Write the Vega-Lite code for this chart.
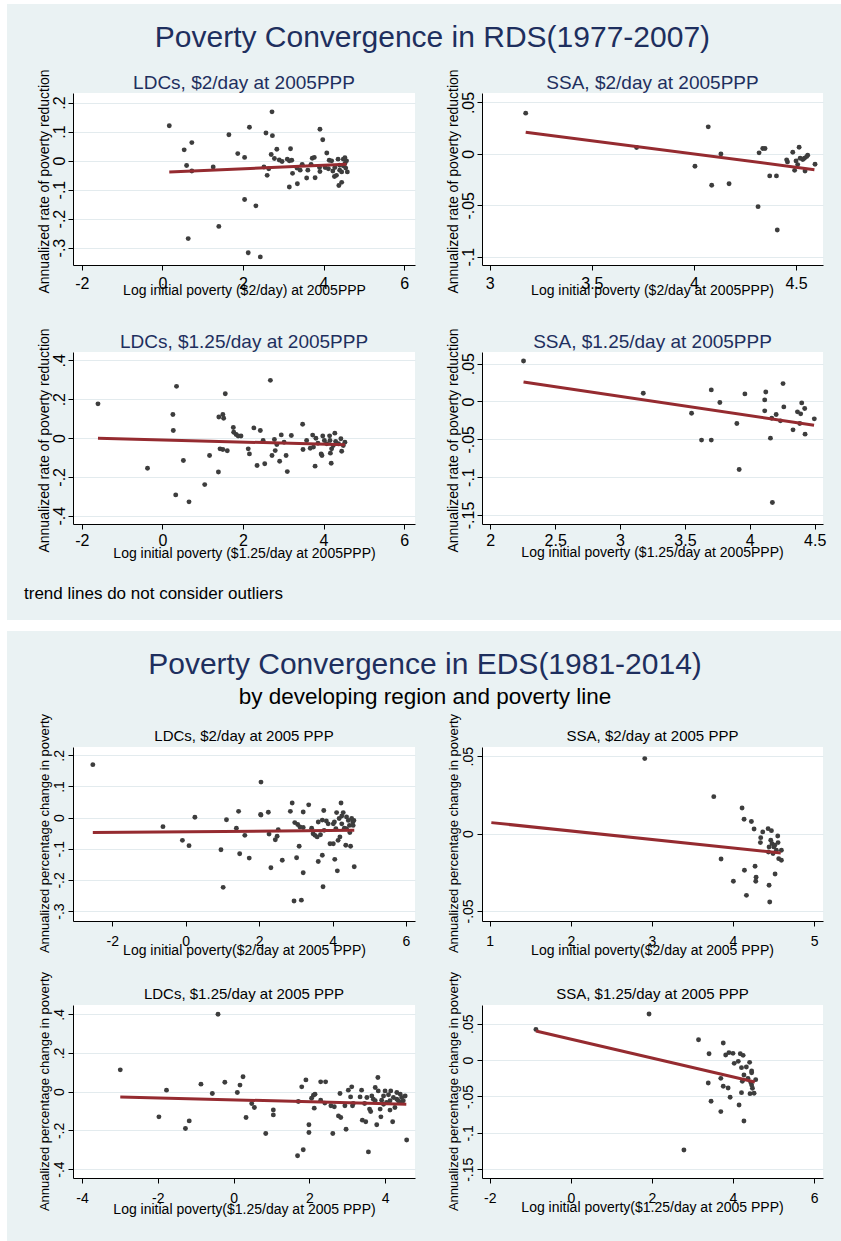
{
"$schema": "https://vega.github.io/schema/vega-lite/v6.json",
"background": "#eaf2f3",
"padding": {"left": 0, "top": 0, "right": 0, "bottom": 0},
"spacing": 0,
"config": {
  "font": "Liberation Sans",
  "view": {"fill": "white", "stroke": null},
  "axis": {"domainColor": "#000", "domainWidth": 1, "tickColor": "#000", "tickSize": 5, "tickWidth": 1, "tickCount": 12, "labelColor": "#000", "titleColor": "#000", "titleFontWeight": "normal", "titleFontSize": 14, "gridColor": "#e3ebee", "gridWidth": 1, "labelFlush": false, "labelOverlap": false, "titleAlign": "center", "labelFont": "Liberation Sans", "titleFont": "Liberation Sans"},
  "axisX": {"grid": false, "titleBaseline": "alphabetic", "titleAngle": 0},
  "axisY": {"grid": true, "labelAngle": 270, "labelAlign": "center", "labelBaseline": "bottom", "titleAngle": 270, "titleBaseline": "alphabetic"},
  "title": {"font": "Liberation Sans", "fontWeight": "normal", "anchor": "middle", "subtitleFont": "Liberation Sans"}
},
"datasets": {
"pts": [
{"p":1,"x":0.17,"y":0.12},{"p":1,"x":0.54,"y":0.037},{"p":1,"x":0.73,"y":0.062},{"p":1,"x":0.60,"y":-0.017},{"p":1,"x":0.73,"y":-0.036},{"p":1,"x":0.64,"y":-0.269},{"p":1,"x":1.26,"y":-0.022},{"p":1,"x":1.40,"y":-0.227},{"p":1,"x":1.65,"y":0.089},{"p":1,"x":1.87,"y":0.024},{"p":1,"x":2.04,"y":0.011},{"p":1,"x":2.16,"y":0.115},{"p":1,"x":2.04,"y":-0.134},{"p":1,"x":2.32,"y":-0.156},{"p":1,"x":2.13,"y":-0.318},{"p":1,"x":2.43,"y":-0.332},{"p":1,"x":2.72,"y":0.168},{"p":1,"x":2.57,"y":0.095},{"p":1,"x":2.73,"y":0.086},{"p":1,"x":2.70,"y":0.021},{"p":1,"x":2.84,"y":0.039},{"p":1,"x":2.78,"y":0.007},{"p":1,"x":2.52,"y":-0.022},{"p":1,"x":2.60,"y":-0.051},{"p":1,"x":2.64,"y":-0.028},{"p":1,"x":2.90,"y":0.002},{"p":1,"x":2.97,"y":-0.003},{"p":1,"x":3.10,"y":0.005},{"p":1,"x":3.18,"y":0.041},{"p":1,"x":3.15,"y":-0.001},{"p":1,"x":3.21,"y":0.001},{"p":1,"x":3.15,"y":-0.091},{"p":1,"x":3.23,"y":-0.044},{"p":1,"x":3.35,"y":-0.080},{"p":1,"x":3.34,"y":-0.026},{"p":1,"x":3.42,"y":-0.033},{"p":1,"x":3.61,"y":-0.033},{"p":1,"x":3.58,"y":-0.060},{"p":1,"x":3.72,"y":0.008},{"p":1,"x":3.77,"y":0.011},{"p":1,"x":3.79,"y":-0.059},{"p":1,"x":3.91,"y":0.108},{"p":1,"x":3.98,"y":0.072},{"p":1,"x":3.90,"y":-0.024},{"p":1,"x":3.91,"y":-0.038},{"p":1,"x":4.08,"y":0.026},{"p":1,"x":4.12,"y":-0.028},{"p":1,"x":4.14,"y":0.001},{"p":1,"x":4.23,"y":-0.036},{"p":1,"x":4.27,"y":-0.055},{"p":1,"x":4.32,"y":-0.051},{"p":1,"x":4.36,"y":0.005},{"p":1,"x":4.40,"y":-0.016},{"p":1,"x":4.38,"y":-0.086},{"p":1,"x":4.45,"y":-0.075},{"p":1,"x":4.49,"y":0.005},{"p":1,"x":4.53,"y":-0.010},{"p":1,"x":4.57,"y":-0.001},{"p":1,"x":4.59,"y":-0.039},{"p":1,"x":4.45,"y":-0.039},{"p":1,"x":4.53,"y":0.010},{"p":1,"x":4.04,"y":-0.024},{"p":1,"x":4.20,"y":-0.001},{"p":1,"x":4.28,"y":-0.024},{"p":1,"x":3.47,"y":-0.013},{"p":1,"x":3.69,"y":-0.013},{"p":1,"x":4.40,"y":-0.033},{"p":1,"x":4.49,"y":-0.018},{"p":1,"x":4.55,"y":-0.026},
{"p":2,"x":3.176,"y":0.0396},{"p":2,"x":3.719,"y":0.0062},{"p":2,"x":4.070,"y":0.0263},{"p":2,"x":4.005,"y":-0.012},{"p":2,"x":4.087,"y":-0.0305},{"p":2,"x":4.132,"y":0.0},{"p":2,"x":4.172,"y":-0.029},{"p":2,"x":4.314,"y":-0.0513},{"p":2,"x":4.319,"y":0.001},{"p":2,"x":4.337,"y":0.0052},{"p":2,"x":4.348,"y":0.0052},{"p":2,"x":4.371,"y":-0.0214},{"p":2,"x":4.404,"y":-0.0214},{"p":2,"x":4.408,"y":-0.074},{"p":2,"x":4.454,"y":-0.0058},{"p":2,"x":4.458,"y":-0.0078},{"p":2,"x":4.484,"y":0.0016},{"p":2,"x":4.493,"y":-0.016},{"p":2,"x":4.5,"y":-0.0068},{"p":2,"x":4.508,"y":-0.0104},{"p":2,"x":4.515,"y":0.0065},{"p":2,"x":4.520,"y":-0.0042},{"p":2,"x":4.533,"y":-0.0055},{"p":2,"x":4.541,"y":-0.0042},{"p":2,"x":4.544,"y":-0.0166},{"p":2,"x":4.552,"y":-0.0026},{"p":2,"x":4.557,"y":-0.0013},{"p":2,"x":4.593,"y":-0.0101},
{"p":3,"x":-1.60,"y":0.176},{"p":3,"x":-0.37,"y":-0.156},{"p":3,"x":0.35,"y":0.266},{"p":3,"x":0.26,"y":0.121},{"p":3,"x":0.27,"y":0.039},{"p":3,"x":0.33,"y":-0.293},{"p":3,"x":0.52,"y":-0.116},{"p":3,"x":0.66,"y":-0.329},{"p":3,"x":1.05,"y":-0.240},{"p":3,"x":1.17,"y":-0.090},{"p":3,"x":1.39,"y":-0.175},{"p":3,"x":1.40,"y":0.108},{"p":3,"x":1.50,"y":0.121},{"p":3,"x":1.52,"y":0.102},{"p":3,"x":1.56,"y":0.228},{"p":3,"x":1.43,"y":-0.056},{"p":3,"x":1.50,"y":-0.059},{"p":3,"x":1.61,"y":-0.066},{"p":3,"x":1.76,"y":0.054},{"p":3,"x":1.77,"y":0.030},{"p":3,"x":1.83,"y":0.018},{"p":3,"x":1.88,"y":0.010},{"p":3,"x":1.95,"y":0.010},{"p":3,"x":2.13,"y":-0.056},{"p":3,"x":2.16,"y":-0.082},{"p":3,"x":2.27,"y":0.052},{"p":3,"x":2.35,"y":-0.142},{"p":3,"x":2.43,"y":0.039},{"p":3,"x":2.50,"y":-0.013},{"p":3,"x":2.54,"y":-0.133},{"p":3,"x":2.68,"y":0.297},{"p":3,"x":2.72,"y":-0.090},{"p":3,"x":2.78,"y":-0.008},{"p":3,"x":2.80,"y":-0.065},{"p":3,"x":2.84,"y":-0.034},{"p":3,"x":2.91,"y":-0.120},{"p":3,"x":2.95,"y":0.016},{"p":3,"x":3.02,"y":-0.022},{"p":3,"x":3.07,"y":-0.090},{"p":3,"x":3.10,"y":-0.173},{"p":3,"x":3.20,"y":0.013},{"p":3,"x":3.48,"y":0.071},{"p":3,"x":3.49,"y":-0.059},{"p":3,"x":3.58,"y":-0.013},{"p":3,"x":3.67,"y":-0.053},{"p":3,"x":3.73,"y":0.015},{"p":3,"x":3.75,"y":-0.047},{"p":3,"x":3.79,"y":-0.145},{"p":3,"x":3.81,"y":-0.001},{"p":3,"x":3.86,"y":-0.027},{"p":3,"x":3.94,"y":-0.082},{"p":3,"x":3.96,"y":-0.090},{"p":3,"x":3.98,"y":0.010},{"p":3,"x":4.02,"y":-0.013},{"p":3,"x":4.08,"y":-0.030},{"p":3,"x":4.15,"y":0.011},{"p":3,"x":4.17,"y":-0.078},{"p":3,"x":4.19,"y":-0.130},{"p":3,"x":4.20,"y":-0.056},{"p":3,"x":4.28,"y":0.025},{"p":3,"x":4.30,"y":-0.018},{"p":3,"x":4.37,"y":-0.030},{"p":3,"x":4.43,"y":-0.004},{"p":3,"x":4.45,"y":-0.068},{"p":3,"x":4.49,"y":-0.039},{"p":3,"x":4.53,"y":-0.022},{"p":3,"x":4.16,"y":-0.013},{"p":3,"x":4.24,"y":-0.039},
{"p":4,"x":2.256,"y":0.0535},{"p":4,"x":3.179,"y":0.0109},{"p":4,"x":3.551,"y":-0.0155},{"p":4,"x":3.628,"y":-0.0511},{"p":4,"x":3.703,"y":0.0153},{"p":4,"x":3.703,"y":-0.0511},{"p":4,"x":3.769,"y":-0.0014},{"p":4,"x":3.900,"y":-0.0292},{"p":4,"x":3.918,"y":-0.090},{"p":4,"x":3.962,"y":0.0100},{"p":4,"x":4.115,"y":0.0021},{"p":4,"x":4.123,"y":0.0126},{"p":4,"x":4.115,"y":-0.0124},{"p":4,"x":4.159,"y":-0.0485},{"p":4,"x":4.169,"y":-0.0221},{"p":4,"x":4.174,"y":-0.1335},{"p":4,"x":4.203,"y":-0.0173},{"p":4,"x":4.236,"y":-0.0256},{"p":4,"x":4.256,"y":0.0236},{"p":4,"x":4.262,"y":-0.0072},{"p":4,"x":4.333,"y":-0.0375},{"p":4,"x":4.367,"y":-0.0137},{"p":4,"x":4.385,"y":-0.0292},{"p":4,"x":4.392,"y":-0.0164},{"p":4,"x":4.400,"y":-0.0019},{"p":4,"x":4.423,"y":-0.0093},{"p":4,"x":4.426,"y":-0.0432},{"p":4,"x":4.497,"y":-0.023},
{"p":5,"x":-2.53,"y":0.170},{"p":5,"x":-0.62,"y":-0.029},{"p":5,"x":-0.09,"y":-0.073},{"p":5,"x":0.09,"y":-0.090},{"p":5,"x":0.25,"y":0.001},{"p":5,"x":0.96,"y":-0.103},{"p":5,"x":1.02,"y":-0.224},{"p":5,"x":1.11,"y":-0.007},{"p":5,"x":1.38,"y":-0.034},{"p":5,"x":1.44,"y":0.020},{"p":5,"x":1.47,"y":-0.116},{"p":5,"x":1.61,"y":-0.057},{"p":5,"x":1.73,"y":-0.130},{"p":5,"x":2.05,"y":0.114},{"p":5,"x":2.04,"y":0.010},{"p":5,"x":2.05,"y":0.008},{"p":5,"x":2.25,"y":0.017},{"p":5,"x":2.27,"y":-0.053},{"p":5,"x":2.32,"y":-0.161},{"p":5,"x":2.44,"y":-0.071},{"p":5,"x":2.49,"y":-0.060},{"p":5,"x":2.52,"y":-0.039},{"p":5,"x":2.63,"y":-0.137},{"p":5,"x":2.85,"y":0.020},{"p":5,"x":2.90,"y":0.047},{"p":5,"x":2.95,"y":-0.268},{"p":5,"x":2.97,"y":-0.016},{"p":5,"x":3.02,"y":-0.129},{"p":5,"x":3.05,"y":-0.022},{"p":5,"x":3.09,"y":-0.092},{"p":5,"x":3.11,"y":-0.030},{"p":5,"x":3.15,"y":-0.265},{"p":5,"x":3.20,"y":0.018},{"p":5,"x":3.20,"y":-0.177},{"p":5,"x":3.20,"y":-0.032},{"p":5,"x":3.35,"y":0.041},{"p":5,"x":3.43,"y":-0.034},{"p":5,"x":3.47,"y":-0.052},{"p":5,"x":3.52,"y":-0.057},{"p":5,"x":3.58,"y":-0.062},{"p":5,"x":3.61,"y":-0.014},{"p":5,"x":3.61,"y":-0.141},{"p":5,"x":3.67,"y":-0.055},{"p":5,"x":3.72,"y":-0.008},{"p":5,"x":3.72,"y":-0.121},{"p":5,"x":3.74,"y":-0.222},{"p":5,"x":3.76,"y":0.023},{"p":5,"x":3.77,"y":-0.041},{"p":5,"x":3.83,"y":-0.011},{"p":5,"x":3.88,"y":-0.020},{"p":5,"x":3.93,"y":-0.084},{"p":5,"x":4.02,"y":-0.084},{"p":5,"x":4.05,"y":-0.014},{"p":5,"x":4.06,"y":-0.134},{"p":5,"x":4.09,"y":-0.036},{"p":5,"x":4.11,"y":0.016},{"p":5,"x":4.13,"y":-0.171},{"p":5,"x":4.15,"y":-0.073},{"p":5,"x":4.18,"y":-0.003},{"p":5,"x":4.20,"y":-0.062},{"p":5,"x":4.23,"y":0.047},{"p":5,"x":4.25,"y":0.005},{"p":5,"x":4.29,"y":0.016},{"p":5,"x":4.32,"y":-0.034},{"p":5,"x":4.36,"y":-0.089},{"p":5,"x":4.38,"y":0.002},{"p":5,"x":4.43,"y":-0.009},{"p":5,"x":4.47,"y":-0.048},{"p":5,"x":4.49,"y":-0.092},{"p":5,"x":4.52,"y":-0.003},{"p":5,"x":4.55,"y":-0.014},{"p":5,"x":4.58,"y":-0.009},{"p":5,"x":4.59,"y":-0.158},{"p":5,"x":4.46,"y":-0.025},{"p":5,"x":4.56,"y":-0.025},{"p":5,"x":4.25,"y":-0.020},{"p":5,"x":4.38,"y":-0.036},{"p":5,"x":4.02,"y":-0.020},
{"p":6,"x":2.912,"y":0.0485},{"p":6,"x":3.763,"y":0.0239},{"p":6,"x":3.853,"y":-0.0164},{"p":6,"x":4.005,"y":-0.0308},{"p":6,"x":4.112,"y":0.0166},{"p":6,"x":4.137,"y":0.0093},{"p":6,"x":4.141,"y":-0.0237},{"p":6,"x":4.166,"y":-0.0399},{"p":6,"x":4.227,"y":0.0078},{"p":6,"x":4.260,"y":0.0030},{"p":6,"x":4.272,"y":-0.0211},{"p":6,"x":4.285,"y":-0.0282},{"p":6,"x":4.281,"y":-0.0308},{"p":6,"x":4.342,"y":-0.0026},{"p":6,"x":4.338,"y":-0.0058},{"p":6,"x":4.367,"y":0.0011},{"p":6,"x":4.433,"y":0.0032},{"p":6,"x":4.445,"y":-0.0334},{"p":6,"x":4.453,"y":-0.0442},{"p":6,"x":4.437,"y":-0.0119},{"p":6,"x":4.474,"y":0.0019},{"p":6,"x":4.466,"y":-0.0043},{"p":6,"x":4.482,"y":-0.0065},{"p":6,"x":4.494,"y":-0.0129},{"p":6,"x":4.503,"y":-0.0086},{"p":6,"x":4.519,"y":-0.0261},{"p":6,"x":4.535,"y":-0.0108},{"p":6,"x":4.552,"y":-0.0015},{"p":6,"x":4.556,"y":-0.0058},{"p":6,"x":4.564,"y":-0.0162},{"p":6,"x":4.597,"y":-0.0108},{"p":6,"x":4.597,"y":-0.0172},{"p":6,"x":4.515,"y":-0.0075},{"p":6,"x":4.445,"y":-0.0086},
{"p":7,"x":-2.99,"y":0.113},{"p":7,"x":-1.97,"y":-0.130},{"p":7,"x":-1.77,"y":0.008},{"p":7,"x":-1.27,"y":-0.190},{"p":7,"x":-1.17,"y":-0.151},{"p":7,"x":-0.86,"y":0.039},{"p":7,"x":-0.56,"y":-0.009},{"p":7,"x":-0.41,"y":0.400},{"p":7,"x":-0.23,"y":0.049},{"p":7,"x":0.10,"y":-0.004},{"p":7,"x":0.17,"y":0.034},{"p":7,"x":0.25,"y":0.077},{"p":7,"x":0.33,"y":-0.133},{"p":7,"x":0.48,"y":-0.061},{"p":7,"x":0.55,"y":-0.082},{"p":7,"x":0.85,"y":-0.216},{"p":7,"x":1.05,"y":-0.094},{"p":7,"x":1.05,"y":-0.120},{"p":7,"x":1.69,"y":-0.331},{"p":7,"x":1.71,"y":-0.051},{"p":7,"x":1.80,"y":0.025},{"p":7,"x":1.84,"y":-0.300},{"p":7,"x":1.91,"y":0.061},{"p":7,"x":1.99,"y":-0.171},{"p":7,"x":1.99,"y":-0.211},{"p":7,"x":2.06,"y":-0.034},{"p":7,"x":2.11,"y":-0.018},{"p":7,"x":2.13,"y":-0.085},{"p":7,"x":2.15,"y":-0.013},{"p":7,"x":2.30,"y":0.051},{"p":7,"x":2.30,"y":-0.044},{"p":7,"x":2.41,"y":-0.059},{"p":7,"x":2.43,"y":0.051},{"p":7,"x":2.57,"y":-0.073},{"p":7,"x":2.62,"y":-0.216},{"p":7,"x":2.66,"y":-0.078},{"p":7,"x":2.77,"y":-0.125},{"p":7,"x":2.81,"y":-0.009},{"p":7,"x":2.83,"y":-0.133},{"p":7,"x":2.94,"y":-0.073},{"p":7,"x":2.97,"y":-0.194},{"p":7,"x":3.03,"y":0.008},{"p":7,"x":3.09,"y":-0.027},{"p":7,"x":3.12,"y":0.025},{"p":7,"x":3.14,"y":-0.073},{"p":7,"x":3.16,"y":-0.061},{"p":7,"x":3.34,"y":-0.027},{"p":7,"x":3.38,"y":0.008},{"p":7,"x":3.40,"y":-0.147},{"p":7,"x":3.46,"y":-0.061},{"p":7,"x":3.49,"y":-0.155},{"p":7,"x":3.56,"y":-0.311},{"p":7,"x":3.59,"y":-0.090},{"p":7,"x":3.62,"y":-0.102},{"p":7,"x":3.65,"y":-0.022},{"p":7,"x":3.69,"y":-0.039},{"p":7,"x":3.74,"y":0.022},{"p":7,"x":3.78,"y":-0.171},{"p":7,"x":3.81,"y":0.073},{"p":7,"x":3.82,"y":0.004},{"p":7,"x":3.87,"y":-0.090},{"p":7,"x":3.89,"y":-0.130},{"p":7,"x":3.91,"y":-0.044},{"p":7,"x":3.96,"y":-0.022},{"p":7,"x":4.00,"y":0.004},{"p":7,"x":4.04,"y":-0.056},{"p":7,"x":4.09,"y":-0.016},{"p":7,"x":4.13,"y":-0.095},{"p":7,"x":4.15,"y":0.004},{"p":7,"x":4.20,"y":-0.155},{"p":7,"x":4.22,"y":-0.030},{"p":7,"x":4.26,"y":-0.082},{"p":7,"x":4.31,"y":-0.004},{"p":7,"x":4.35,"y":-0.047},{"p":7,"x":4.40,"y":-0.013},{"p":7,"x":4.44,"y":-0.030},{"p":7,"x":4.48,"y":-0.047},{"p":7,"x":4.53,"y":-0.022},{"p":7,"x":4.57,"y":-0.250},{"p":7,"x":4.13,"y":-0.047},{"p":7,"x":3.96,"y":-0.065},{"p":7,"x":3.74,"y":-0.047},{"p":7,"x":4.31,"y":-0.039},{"p":7,"x":4.40,"y":-0.056},{"p":7,"x":3.52,"y":-0.030},
{"p":8,"x":-0.86,"y":0.0422},{"p":8,"x":1.93,"y":0.0633},{"p":8,"x":3.15,"y":0.0280},{"p":8,"x":2.79,"y":-0.1235},{"p":8,"x":3.39,"y":-0.0315},{"p":8,"x":3.41,"y":0.0088},{"p":8,"x":3.46,"y":-0.0566},{"p":8,"x":3.70,"y":-0.0251},{"p":8,"x":3.70,"y":-0.0708},{"p":8,"x":3.76,"y":0.0235},{"p":8,"x":3.76,"y":-0.0360},{"p":8,"x":3.82,"y":0.0070},{"p":8,"x":3.88,"y":-0.0383},{"p":8,"x":3.90,"y":0.0102},{"p":8,"x":3.93,"y":-0.0511},{"p":8,"x":4.00,"y":0.0093},{"p":8,"x":4.03,"y":-0.0045},{"p":8,"x":4.13,"y":-0.0017},{"p":8,"x":4.15,"y":-0.0616},{"p":8,"x":4.18,"y":0.0088},{"p":8,"x":4.21,"y":-0.0104},{"p":8,"x":4.21,"y":-0.0447},{"p":8,"x":4.25,"y":0.0065},{"p":8,"x":4.23,"y":-0.0292},{"p":8,"x":4.27,"y":-0.0836},{"p":8,"x":4.27,"y":-0.0204},{"p":8,"x":4.33,"y":-0.0095},{"p":8,"x":4.37,"y":-0.0251},{"p":8,"x":4.41,"y":-0.0031},{"p":8,"x":4.42,"y":-0.0461},{"p":8,"x":4.44,"y":-0.0309},{"p":8,"x":4.46,"y":-0.0150},{"p":8,"x":4.46,"y":-0.0173},{"p":8,"x":4.48,"y":-0.0387},{"p":8,"x":4.52,"y":-0.0456},{"p":8,"x":4.56,"y":-0.0269},{"p":8,"x":4.46,"y":-0.0342}
],
"fit": [
{"p":1,"x":0.17,"y":-0.039},{"p":1,"x":4.57,"y":-0.013},
{"p":2,"x":3.176,"y":0.0211},{"p":2,"x":4.590,"y":-0.0153},
{"p":3,"x":-1.60,"y":-0.001},{"p":3,"x":4.53,"y":-0.035},
{"p":4,"x":2.256,"y":0.0258},{"p":4,"x":4.495,"y":-0.0313},
{"p":5,"x":-2.53,"y":-0.048},{"p":5,"x":4.59,"y":-0.041},
{"p":6,"x":1.02,"y":0.0071},{"p":6,"x":4.589,"y":-0.0125},
{"p":7,"x":-2.99,"y":-0.027},{"p":7,"x":4.56,"y":-0.065},
{"p":8,"x":-0.86,"y":0.0399},{"p":8,"x":4.54,"y":-0.0301}
]
},
"hconcat": [
{"width": 7, "height": 1241, "data": {"values": [{"a": 1}]}, "mark": {"type": "rect", "color": "white"}, "encoding": {}},
{
"columns": 1,
"align": "none",
"spacing": 18,
"concat": [
{"width": 768, "height": 4, "data": {"values": [{"a": 1}]},
 "mark": {"type": "rect", "color": "white"},
 "encoding": {
   "x": {"datum": -0.0859, "type": "quantitative", "scale": {"domain": [0, 1], "nice": false, "zero": false}, "axis": null},
   "x2": {"datum": 1}
 }},
{
 "title": {"text": "trend lines do not consider outliers", "orient": "bottom", "anchor": "start", "fontSize": 17, "color": "#000", "offset": 26, "dx": 17},
 "vconcat": [
 {
  "title": {"text": "Poverty Convergence in RDS(1977-2007)", "fontSize": 30, "color": "#1e2f5e", "offset": 16, "dx": 16},
  "spacing": 30,
  "vconcat": [
   {"spacing": 30, "hconcat": [
    {"width": 342, "height": 172,
     "title": {"text": "LDCs, $2/day at 2005PPP", "fontSize": 19, "color": "#1e2f5e", "offset": -24},
     "layer": [
      {"data": {"name": "pts"}, "transform": [{"filter": "datum.p == 1"}],
       "mark": {"type": "circle", "size": 24, "color": "#3d3d3d", "opacity": 1},
       "encoding": {
        "x": {"field": "x", "type": "quantitative", "scale": {"domain": [-2.22, 6.27], "nice": false, "zero": false},
              "axis": {"values": [-2,0,2,4,6], "tickCount": 12, "title": "Log initial poverty ($2/day) at 2005PPP", "labelFontSize": 16, "labelPadding": 5, "labelOverlap": false, "titleX": 171, "titleY": 29, "labelExpr": "replace(format(datum.value, '~g'), '−', '-')"}},
        "y": {"field": "y", "type": "quantitative", "scale": {"domain": [-0.36, 0.233], "nice": false, "zero": false},
              "axis": {"values": [-0.3,-0.2,-0.1,0,0.1,0.2], "tickCount": 12, "title": "Annualized rate of poverty reduction", "labelFontSize": 16, "labelPadding": 1, "labelOverlap": false, "minExtent": 66, "titleX": -25, "titleY": 88, "labelExpr": "datum.value == 0 ? '0' : (datum.value < 0 ? '-' : '') + replace(format(abs(datum.value), '.2~f'), '0.', '.')"}}
       }},
      {"data": {"name": "fit"}, "transform": [{"filter": "datum.p == 1"}],
       "mark": {"type": "line", "color": "#952b30", "strokeWidth": 3},
       "encoding": {"x": {"field": "x", "type": "quantitative"}, "y": {"field": "y", "type": "quantitative"}}}
     ]},
    {"width": 341, "height": 172,
     "title": {"text": "SSA, $2/day at 2005PPP", "fontSize": 19, "color": "#1e2f5e", "offset": -24},
     "layer": [
      {"data": {"name": "pts"}, "transform": [{"filter": "datum.p == 2"}],
       "mark": {"type": "circle", "size": 24, "color": "#3d3d3d", "opacity": 1},
       "encoding": {
        "x": {"field": "x", "type": "quantitative", "scale": {"domain": [2.962, 4.632], "nice": false, "zero": false},
              "axis": {"values": [3,3.5,4,4.5], "tickCount": 12, "title": "Log initial poverty ($2/day at 2005PPP)", "labelFontSize": 16, "labelPadding": 5, "labelOverlap": false, "titleX": 170, "titleY": 29, "labelExpr": "replace(format(datum.value, '~g'), '−', '-')"}},
        "y": {"field": "y", "type": "quantitative", "scale": {"domain": [-0.108, 0.0592], "nice": false, "zero": false},
              "axis": {"values": [-0.1,-0.05,0,0.05], "tickCount": 12, "title": "Annualized rate of poverty reduction", "labelFontSize": 16, "labelPadding": 1, "labelOverlap": false, "minExtent": 37, "titleX": -25, "titleY": 88, "labelExpr": "datum.value == 0 ? '0' : (datum.value < 0 ? '-' : '') + replace(format(abs(datum.value), '.2~f'), '0.', '.')"}}
       }},
      {"data": {"name": "fit"}, "transform": [{"filter": "datum.p == 2"}],
       "mark": {"type": "line", "color": "#952b30", "strokeWidth": 3},
       "encoding": {"x": {"field": "x", "type": "quantitative"}, "y": {"field": "y", "type": "quantitative"}}}
     ]}
   ]},
   {"spacing": 30, "hconcat": [
    {"width": 342, "height": 172,
     "title": {"text": "LDCs, $1.25/day at 2005PPP", "fontSize": 19, "color": "#1e2f5e", "offset": -24},
     "layer": [
      {"data": {"name": "pts"}, "transform": [{"filter": "datum.p == 3"}],
       "mark": {"type": "circle", "size": 24, "color": "#3d3d3d", "opacity": 1},
       "encoding": {
        "x": {"field": "x", "type": "quantitative", "scale": {"domain": [-2.22, 6.27], "nice": false, "zero": false},
              "axis": {"values": [-2,0,2,4,6], "tickCount": 12, "title": "Log initial poverty ($1.25/day at 2005PPP)", "labelFontSize": 16, "labelPadding": 3, "labelOverlap": false, "titleX": 171, "titleY": 33, "labelExpr": "replace(format(datum.value, '~g'), '−', '-')"}},
        "y": {"field": "y", "type": "quantitative", "scale": {"domain": [-0.443, 0.443], "nice": false, "zero": false},
              "axis": {"values": [-0.4,-0.2,0,0.2,0.4], "tickCount": 12, "title": "Annualized rate of poverty reduction", "labelFontSize": 16, "labelPadding": 1, "labelOverlap": false, "minExtent": 66, "titleX": -25, "titleY": 88, "labelExpr": "datum.value == 0 ? '0' : (datum.value < 0 ? '-' : '') + replace(format(abs(datum.value), '.2~f'), '0.', '.')"}}
       }},
      {"data": {"name": "fit"}, "transform": [{"filter": "datum.p == 3"}],
       "mark": {"type": "line", "color": "#952b30", "strokeWidth": 3},
       "encoding": {"x": {"field": "x", "type": "quantitative"}, "y": {"field": "y", "type": "quantitative"}}}
     ]},
    {"width": 341, "height": 172,
     "title": {"text": "SSA, $1.25/day at 2005PPP", "fontSize": 19, "color": "#1e2f5e", "offset": -24},
     "layer": [
      {"data": {"name": "pts"}, "transform": [{"filter": "datum.p == 4"}],
       "mark": {"type": "circle", "size": 24, "color": "#3d3d3d", "opacity": 1},
       "encoding": {
        "x": {"field": "x", "type": "quantitative", "scale": {"domain": [1.936, 4.564], "nice": false, "zero": false},
              "axis": {"values": [2,2.5,3,3.5,4,4.5], "tickCount": 12, "title": "Log initial poverty ($1.25/day at 2005PPP)", "labelFontSize": 16, "labelPadding": 3, "labelOverlap": false, "titleX": 170, "titleY": 32, "labelExpr": "replace(format(datum.value, '~g'), '−', '-')"}},
        "y": {"field": "y", "type": "quantitative", "scale": {"domain": [-0.162, 0.0654], "nice": false, "zero": false},
              "axis": {"values": [-0.15,-0.1,-0.05,0,0.05], "tickCount": 12, "title": "Annualized rate of poverty reduction", "labelFontSize": 16, "labelPadding": 1, "labelOverlap": false, "minExtent": 37, "titleX": -25, "titleY": 88, "labelExpr": "datum.value == 0 ? '0' : (datum.value < 0 ? '-' : '') + replace(format(abs(datum.value), '.2~f'), '0.', '.')"}}
       }},
      {"data": {"name": "fit"}, "transform": [{"filter": "datum.p == 4"}],
       "mark": {"type": "line", "color": "#952b30", "strokeWidth": 3},
       "encoding": {"x": {"field": "x", "type": "quantitative"}, "y": {"field": "y", "type": "quantitative"}}}
     ]}
   ]}
  ]
 }
 ]
},
{"width": 768, "height": 11, "data": {"values": [{"a": 1}]},
 "mark": {"type": "rect", "color": "white"},
 "encoding": {
   "x": {"datum": -0.0859, "type": "quantitative", "scale": {"domain": [0, 1], "nice": false, "zero": false}, "axis": null},
   "x2": {"datum": 1}
 }},
{
 "title": {"text": "Poverty Convergence in EDS(1981-2014)", "subtitle": "by developing region and poverty line", "fontSize": 30, "color": "#1e2f5e", "subtitleFontSize": 22.5, "subtitleColor": "#000", "subtitlePadding": 6, "offset": 5, "dx": 10},
 "spacing": 14,
 "vconcat": [
  {"spacing": 30, "hconcat": [
   {"width": 342, "height": 174,
    "title": {"text": "LDCs, $2/day at 2005 PPP", "fontSize": 15, "color": "#000", "offset": -31},
    "layer": [
     {"data": {"name": "pts"}, "transform": [{"filter": "datum.p == 5"}],
      "mark": {"type": "circle", "size": 24, "color": "#3d3d3d", "opacity": 1},
      "encoding": {
       "x": {"field": "x", "type": "quantitative", "scale": {"domain": [-3.07, 6.245], "nice": false, "zero": false},
             "axis": {"values": [-2,0,2,4,6], "tickCount": 12, "title": "Log initial poverty($2/day at 2005 PPP)", "labelFontSize": 14, "labelPadding": 8, "labelOverlap": false, "titleX": 171, "titleY": 33, "labelExpr": "replace(format(datum.value, '~g'), '−', '-')"}},
       "y": {"field": "y", "type": "quantitative", "scale": {"domain": [-0.332, 0.2267], "nice": false, "zero": false},
             "axis": {"values": [-0.3,-0.2,-0.1,0,0.1,0.2], "tickCount": 12, "title": "Annualized percentage change in poverty", "titleFontSize": 13, "labelFontSize": 14, "labelPadding": 2, "labelOverlap": false, "minExtent": 66, "titleX": -25, "titleY": 86, "labelExpr": "datum.value == 0 ? '0' : (datum.value < 0 ? '-' : '') + replace(format(abs(datum.value), '.2~f'), '0.', '.')"}}
      }},
     {"data": {"name": "fit"}, "transform": [{"filter": "datum.p == 5"}],
      "mark": {"type": "line", "color": "#952b30", "strokeWidth": 3},
      "encoding": {"x": {"field": "x", "type": "quantitative"}, "y": {"field": "y", "type": "quantitative"}}}
    ]},
   {"width": 341, "height": 174,
    "title": {"text": "SSA, $2/day at 2005 PPP", "fontSize": 15, "color": "#000", "offset": -31},
    "layer": [
     {"data": {"name": "pts"}, "transform": [{"filter": "datum.p == 6"}],
      "mark": {"type": "circle", "size": 24, "color": "#3d3d3d", "opacity": 1},
      "encoding": {
       "x": {"field": "x", "type": "quantitative", "scale": {"domain": [0.905, 5.11], "nice": false, "zero": false},
             "axis": {"values": [1,2,3,4,5], "tickCount": 12, "title": "Log initial poverty($2/day at 2005 PPP)", "labelFontSize": 14, "labelPadding": 8, "labelOverlap": false, "titleX": 170, "titleY": 33, "labelExpr": "replace(format(datum.value, '~g'), '−', '-')"}},
       "y": {"field": "y", "type": "quantitative", "scale": {"domain": [-0.0565, 0.056], "nice": false, "zero": false},
             "axis": {"values": [-0.05,0,0.05], "tickCount": 12, "title": "Annualized percentage change in poverty", "titleFontSize": 13, "labelFontSize": 14, "labelPadding": 2, "labelOverlap": false, "minExtent": 37, "titleX": -25, "titleY": 86, "labelExpr": "datum.value == 0 ? '0' : (datum.value < 0 ? '-' : '') + replace(format(abs(datum.value), '.2~f'), '0.', '.')"}}
      }},
     {"data": {"name": "fit"}, "transform": [{"filter": "datum.p == 6"}],
      "mark": {"type": "line", "color": "#952b30", "strokeWidth": 3},
      "encoding": {"x": {"field": "x", "type": "quantitative"}, "y": {"field": "y", "type": "quantitative"}}}
    ]}
  ]},
  {"spacing": 30, "hconcat": [
   {"width": 342, "height": 173,
    "title": {"text": "LDCs, $1.25/day at 2005 PPP", "fontSize": 15, "color": "#000", "offset": -31},
    "layer": [
     {"data": {"name": "pts"}, "transform": [{"filter": "datum.p == 7"}],
      "mark": {"type": "circle", "size": 24, "color": "#3d3d3d", "opacity": 1},
      "encoding": {
       "x": {"field": "x", "type": "quantitative", "scale": {"domain": [-4.238, 4.79], "nice": false, "zero": false},
             "axis": {"values": [-4,-2,0,2,4], "tickCount": 12, "title": "Log initial poverty($1.25/day at 2005 PPP)", "labelFontSize": 14, "labelPadding": 8, "labelOverlap": false, "titleX": 171, "titleY": 35, "labelExpr": "replace(format(datum.value, '~g'), '−', '-')"}},
       "y": {"field": "y", "type": "quantitative", "scale": {"domain": [-0.446, 0.448], "nice": false, "zero": false},
             "axis": {"values": [-0.4,-0.2,0,0.2,0.4], "tickCount": 12, "title": "Annualized percentage change in poverty", "titleFontSize": 13, "labelFontSize": 14, "labelPadding": 2, "labelOverlap": false, "minExtent": 66, "titleX": -25, "titleY": 86, "labelExpr": "datum.value == 0 ? '0' : (datum.value < 0 ? '-' : '') + replace(format(abs(datum.value), '.2~f'), '0.', '.')"}}
      }},
     {"data": {"name": "fit"}, "transform": [{"filter": "datum.p == 7"}],
      "mark": {"type": "line", "color": "#952b30", "strokeWidth": 3},
      "encoding": {"x": {"field": "x", "type": "quantitative"}, "y": {"field": "y", "type": "quantitative"}}}
    ]},
   {"width": 341, "height": 173,
    "title": {"text": "SSA, $1.25/day at 2005 PPP", "fontSize": 15, "color": "#000", "offset": -31},
    "layer": [
     {"data": {"name": "pts"}, "transform": [{"filter": "datum.p == 8"}],
      "mark": {"type": "circle", "size": 24, "color": "#3d3d3d", "opacity": 1},
      "encoding": {
       "x": {"field": "x", "type": "quantitative", "scale": {"domain": [-2.19, 6.22], "nice": false, "zero": false},
             "axis": {"values": [-2,0,2,4,6], "tickCount": 12, "title": "Log initial poverty($1.25/day at 2005 PPP)", "labelFontSize": 14, "labelPadding": 8, "labelOverlap": false, "titleX": 170, "titleY": 33, "labelExpr": "replace(format(datum.value, '~g'), '−', '-')"}},
       "y": {"field": "y", "type": "quantitative", "scale": {"domain": [-0.162, 0.0757], "nice": false, "zero": false},
             "axis": {"values": [-0.15,-0.1,-0.05,0,0.05], "tickCount": 12, "title": "Annualized percentage change in poverty", "titleFontSize": 13, "labelFontSize": 14, "labelPadding": 2, "labelOverlap": false, "minExtent": 37, "titleX": -25, "titleY": 86, "labelExpr": "datum.value == 0 ? '0' : (datum.value < 0 ? '-' : '') + replace(format(abs(datum.value), '.2~f'), '0.', '.')"}}
      }},
     {"data": {"name": "fit"}, "transform": [{"filter": "datum.p == 8"}],
      "mark": {"type": "line", "color": "#952b30", "strokeWidth": 3},
      "encoding": {"x": {"field": "x", "type": "quantitative"}, "y": {"field": "y", "type": "quantitative"}}}
    ]}
  ]}
 ]
}
]
}
]
}
